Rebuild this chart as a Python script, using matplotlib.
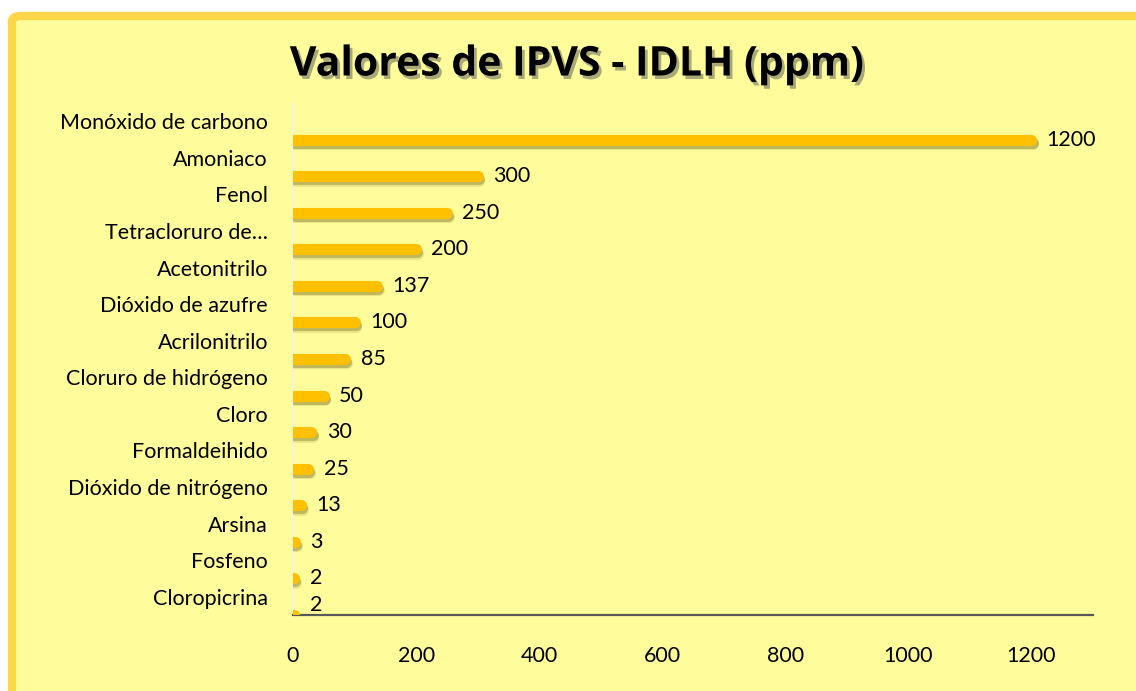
import matplotlib
matplotlib.use("Agg")
import matplotlib.pyplot as plt
import matplotlib.patheffects as pe
from matplotlib.patches import FancyBboxPatch

# ── data (top to bottom) ──────────────────────────────────────
compuestos = ["Monóxido de carbono", "Amoniaco", "Fenol", "Tetracloruro de…",
              "Acetonitrilo", "Dióxido de azufre", "Acrilonitrilo",
              "Cloruro de hidrógeno", "Cloro", "Formaldeihido",
              "Dióxido de nitrógeno", "Arsina", "Fosfeno", "Cloropicrina"]
idlh_ppm = [1200, 300, 250, 200, 137, 100, 85, 50, 30, 25, 13, 3, 2, 2]
x_ticks = [0, 200, 400, 600, 800, 1000, 1200]

BG = "#FFFD9B"
BORDER = "#FFD54A"
BAR = "#FFC000"
FONT = ["Lato", "DejaVu Sans"]
FS = 15.5

fig = plt.figure(figsize=(11.36, 6.91), dpi=100, facecolor="white")

# ── frame ─────────────────────────────────────────────────────
frame = FancyBboxPatch((12 / 1136, -0.05), 1.2, 1 - 16 / 691 + 0.05,
                       boxstyle="round,pad=0,rounding_size=0.008",
                       transform=fig.transFigure, facecolor=BG,
                       edgecolor=BORDER, linewidth=6, zorder=-5)
fig.patches.append(frame)

ax = fig.add_axes([293 / 1136, 1 - 615 / 691, 800 / 1136, 512 / 691])
ax.set_facecolor("none")
ax.set_zorder(2)

n = len(compuestos)
pos = list(range(n))
bar_pos = [p + 0.5 for p in pos]

shadow = [pe.SimpleLineShadow(offset=(0.8, -2.2), shadow_color="#5a4c00", alpha=0.3),
          pe.SimpleLineShadow(offset=(1.2, -3.2), shadow_color="#5a4c00", alpha=0.12),
          pe.Normal()]
for y, v in zip(bar_pos, idlh_ppm):
    ln, = ax.plot([0, v], [y, y], color=BAR, lw=8, solid_capstyle="round",
                  zorder=3)
    ln.set_path_effects(shadow)
    ly = min(y, n - 0.78)
    ax.annotate(str(v), (v, ly), xytext=(11, 0), textcoords="offset points",
                va="center", ha="left", fontsize=FS, family=FONT, color="black")

ax.set_xlim(0, 1300)
ax.set_ylim(n - 0.5, -0.5)
ax.set_yticks(pos)
ax.set_yticklabels(compuestos, family=FONT, fontsize=FS)
ax.set_xticks(x_ticks)
ax.set_xticklabels([str(t) for t in x_ticks], family=FONT, fontsize=FS)
ax.tick_params(length=0)
ax.tick_params(axis="x", pad=22)
ax.tick_params(axis="y", pad=18)
for s in ["top", "right"]:
    ax.spines[s].set_visible(False)
ax.spines["left"].set_color("#F2F2E0")
ax.spines["left"].set_linewidth(1.2)
ax.spines["bottom"].set_color("#595959")
ax.spines["bottom"].set_linewidth(1.6)

fig.text(0.508, 1 - 65 / 691, "Valores de IPVS - IDLH (ppm)", ha="center",
         va="center", fontsize=29.5, fontweight="bold", family=["Open Sans", "DejaVu Sans"],
         path_effects=[pe.withSimplePatchShadow(offset=(2, -2.5),
                                                shadow_rgbFace="#555555", alpha=0.5)])

fig.savefig("out.png", dpi=100, facecolor="white")
